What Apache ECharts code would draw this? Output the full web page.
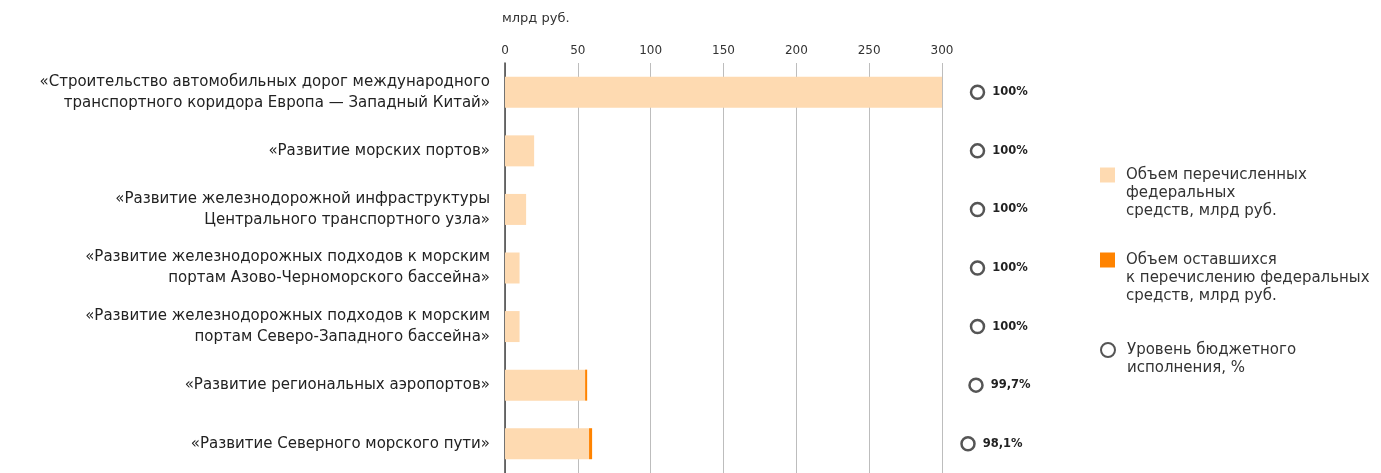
<!DOCTYPE html>
<html><head><meta charset="utf-8">
<script src="https://cdn.jsdelivr.net/npm/echarts@6/dist/echarts.min.js"></script>
<style>html,body{margin:0;padding:0;background:#fff}#c{width:1381px;height:473px}</style>
</head><body><div id="c"></div>
<script>
const categories = [
  '«Строительство автомобильных дорог международного\nтранспортного коридора Европа — Западный Китай»',
  '«Развитие морских портов»',
  '«Развитие железнодорожной инфраструктуры\nЦентрального транспортного узла»',
  '«Развитие железнодорожных подходов к морским\nпортам Азово-Черноморского бассейна»',
  '«Развитие железнодорожных подходов к морским\nпортам Северо-Западного бассейна»',
  '«Развитие региональных аэропортов»',
  '«Развитие Северного морского пути»'
];
const transferred = [300, 20, 14.5, 10, 10, 55, 57.7];
const remaining = [0, 0, 0, 0, 0, 1.4, 2.1];
const execution = [100, 100, 100, 100, 100, 99.7, 98.1];
const executionLabels = ['100%', '100%', '100%', '100%', '100%', '99,7%', '98,1%'];
const seriesNames = [
  'Объем перечисленных\nфедеральных\nсредств, млрд руб.',
  'Объем оставшихся\nк перечислению федеральных\nсредств, млрд руб.',
  'Уровень бюджетного\nисполнения, %'
];
const unitLabel = 'млрд руб.';

const FONT = 'DejaVu Sans';
const chart = echarts.init(document.getElementById('c'), null, {renderer: 'canvas'});
// pad the legend text with leading blank lines so the icon lines up with the first line
const alignFirstLine = name => {
  const n = name.split('\n').length;
  return '\n'.repeat(n - 1) + name;
};
const legendText = {fontSize: 15, color: '#333', lineHeight: 18, padding: [0, 0, 0, 6], fontFamily: FONT};
const legendBase = {
  orient: 'vertical', left: 1100, padding: 0, itemWidth: 15, itemHeight: 15,
  selectedMode: false, formatter: alignFirstLine, textStyle: legendText
};
chart.setOption({
  animation: false,
  textStyle: {fontFamily: FONT},
  title: {text: unitLabel, left: 502, top: 12, padding: 0,
    textStyle: {fontSize: 13, fontWeight: 'normal', color: '#333', fontFamily: FONT}},
  grid: [
    {left: 505, width: 437, top: 63, height: 415, containLabel: false},
    {left: 927.5, width: 100, top: 63, height: 415, containLabel: false}
  ],
  xAxis: [
    {type: 'value', gridIndex: 0, position: 'top', min: 0, max: 300, interval: 50,
      axisLine: {show: false}, axisTick: {show: false},
      splitLine: {show: true, lineStyle: {color: '#bdbdbd', width: 1}},
      axisLabel: {fontSize: 12, color: '#333', margin: 6, fontFamily: FONT}},
    {type: 'value', gridIndex: 1, min: 90, max: 110, show: false}
  ],
  yAxis: [
    {type: 'category', gridIndex: 0, inverse: true, data: categories,
      axisLine: {show: true, lineStyle: {color: '#444', width: 1.5}},
      axisTick: {show: false},
      axisLabel: {fontSize: 15, lineHeight: 21, color: '#222', margin: 15, align: 'right', fontFamily: FONT}},
    {type: 'category', gridIndex: 1, inverse: true, data: categories, show: false}
  ],
  legend: [
    Object.assign({}, legendBase, {top: 130, data: [{name: seriesNames[0], icon: 'rect'}]}),
    Object.assign({}, legendBase, {top: 215, data: [{name: seriesNames[1], icon: 'rect'}]}),
    Object.assign({}, legendBase, {top: 323, itemWidth: 14, itemHeight: 14,
      data: [{name: seriesNames[2], icon: 'circle'}],
      textStyle: Object.assign({}, legendText, {padding: [0, 0, 0, 7]})})
  ],
  series: [
    {name: seriesNames[0], type: 'bar', stack: 'a', xAxisIndex: 0, yAxisIndex: 0,
      barWidth: 31, data: transferred, itemStyle: {color: '#FEDAB1'}},
    {name: seriesNames[1], type: 'bar', stack: 'a', xAxisIndex: 0, yAxisIndex: 0,
      barWidth: 31, data: remaining, itemStyle: {color: '#FF8300'}},
    {name: seriesNames[2], type: 'scatter', xAxisIndex: 1, yAxisIndex: 1,
      data: execution, symbol: 'circle', symbolSize: 13,
      itemStyle: {color: '#fff', borderColor: '#555', borderWidth: 2.5, opacity: 1},
      label: {show: true, position: 'right', distance: 7, fontSize: 11.5, fontWeight: 'bold', color: '#222', fontFamily: FONT,
        formatter: p => executionLabels[p.dataIndex]}}
  ]
});
</script></body></html>
